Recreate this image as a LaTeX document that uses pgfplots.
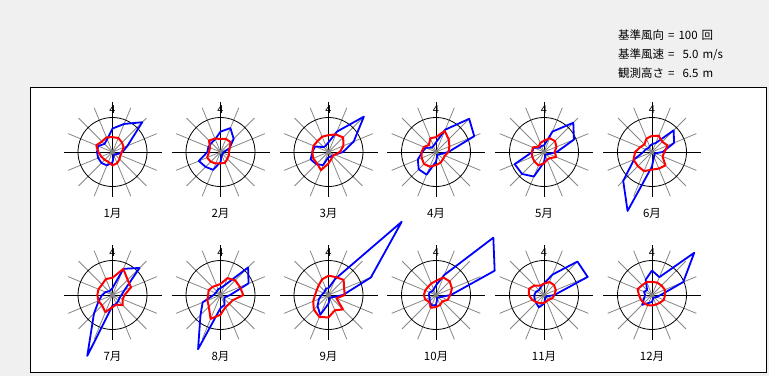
\documentclass[border=0pt]{standalone}
\usepackage{pgfplots}
\pgfplotsset{compat=1.18}
\usepackage{pgfplotstable}
\usepgfplotslibrary{polar}
\usepackage{fontspec}
\setmainfont{Noto Sans CJK JP}
\definecolor{bg}{RGB}{240,240,240}
\definecolor{spoke}{RGB}{135,135,135}
\definecolor{fblue}{RGB}{0,0,255}
\definecolor{vred}{RGB}{255,0,0}

% d = direction index (0=N, clockwise), f = count (ref 100), v = mean speed m/s (ref 5.0)
\pgfplotstableread{
d f v
0 68 2.15
1 88 2.20
2 122 1.95
3 47 1.75
4 29 1.35
5 15 1.25
6 10 1.45
7 10 1.75
8 30 1.95
9 42 1.55
10 45 1.60
11 45 1.75
12 45 2.05
13 45 2.55
14 33 2.15
15 40 2.30
16 68 2.15
}\tJan
\pgfplotstableread{
d f v
0 59 1.90
1 75 2.05
2 54 2.05
3 28 1.45
4 10 1.20
5 8 1.30
6 8 1.40
7 10 1.70
8 29 1.65
9 56 1.80
10 61 2.00
11 68 2.10
12 38 1.65
13 38 1.65
14 37 2.35
15 40 2.10
16 59 1.90
}\tFeb
\pgfplotstableread{
d f v
0 28 2.45
1 64 2.75
2 145 3.00
3 79 2.35
4 42 1.65
5 20 1.00
6 15 0.85
7 15 1.10
8 15 1.65
9 41 2.85
10 50 2.35
11 56 2.40
12 47 2.35
13 42 2.35
14 20 2.25
15 20 2.40
16 28 2.45
}\tMar
\pgfplotstableread{
d f v
0 28 2.15
1 70 3.30
2 136 2.60
3 120 2.10
4 36 1.80
5 15 1.40
6 10 1.45
7 10 1.70
8 28 1.90
9 71 2.30
10 71 2.45
11 57 2.25
12 40 2.10
13 32 1.90
14 18 1.45
15 19 2.15
16 28 2.15
}\tApr
\pgfplotstableread{
d f v
0 19 1.65
1 64 2.15
2 120 2.25
3 94 1.95
4 37 1.55
5 15 1.90
6 10 1.25
7 10 1.20
8 30 1.65
9 77 2.10
10 90 1.95
11 92 1.85
12 34 1.75
13 33 1.75
14 18 1.10
15 19 1.40
16 19 1.65
}\tMay
\pgfplotstableread{
d f v
0 23 2.35
1 28 2.55
2 89 2.10
3 69 2.45
4 31 1.80
5 10 1.65
6 10 2.75
7 15 2.60
8 42 2.55
9 185 3.00
10 118 2.90
11 56 2.90
12 25 2.45
13 20 1.85
14 15 1.55
15 18 2.10
16 23 2.35
}\tJun
\pgfplotstableread{
d f v
0 20 2.50
1 82 4.10
2 111 3.10
3 38 2.90
4 26 1.75
5 22 1.60
6 24 2.10
7 28 1.50
8 31 1.75
9 191 2.70
10 76 2.15
11 43 2.20
12 30 2.20
13 22 2.20
14 15 2.15
15 15 2.50
16 20 2.50
}\tJul
\pgfplotstableread{
d f v
0 20 1.60
1 30 2.65
2 113 3.00
3 88 3.05
4 28 3.30
5 15 1.95
6 15 1.80
7 31 1.90
8 38 2.85
9 170 3.75
10 82 2.40
11 56 2.05
12 20 1.80
13 15 1.85
14 15 1.65
15 18 1.50
16 20 1.60
}\tAug
\pgfplotstableread{
d f v
0 20 2.80
1 50 2.80
2 300 3.10
3 133 2.45
4 42 2.35
5 15 1.25
6 10 2.95
7 10 2.40
8 25 3.25
9 62 3.45
10 45 3.00
11 30 2.40
12 20 1.95
13 15 1.85
14 15 2.00
15 20 2.45
16 20 2.80
}\tSep
\pgfplotstableread{
d f v
0 28 2.05
1 63 2.75
2 235 2.80
3 184 2.50
4 43 2.05
5 15 1.85
6 10 1.30
7 10 1.55
8 29 1.75
9 33 2.00
10 26 1.40
11 20 1.70
12 21 1.75
13 20 1.70
14 15 1.65
15 18 1.80
16 28 2.05
}\tOct
\pgfplotstableread{
d f v
0 33 1.65
1 64 2.05
2 137 2.05
3 137 1.85
4 30 1.50
5 10 1.30
6 8 0.95
7 10 1.00
8 25 1.15
9 39 1.30
10 32 1.50
11 30 1.85
12 28 2.20
13 25 2.35
14 20 1.95
15 25 1.45
16 33 1.65
}\tNov
\pgfplotstableread{
d f v
0 71 1.90
1 56 1.95
2 173 1.95
3 98 2.00
4 25 1.90
5 15 1.85
6 10 1.60
7 10 1.50
8 20 1.50
9 25 1.60
10 40 1.65
11 25 1.75
12 20 1.90
13 25 2.25
14 20 2.00
15 48 2.05
16 71 1.90
}\tDec

\newcommand{\rose}[3]{%
\begin{axis}[at={(#1pt,#2pt)},anchor=origin,x=0.345pt,y=0.345pt,
  xmin=-100,xmax=100,ymin=-100,ymax=100,hide axis,clip=false,data cs=polar]
\addplot[fblue,line width=1.8pt,line join=round,mark=none]
  table[x expr={90-22.5*\thisrow{d}},y=f]{#3};
\addplot[vred,line width=2.0pt,line join=round,mark=none]
  table[x expr={90-22.5*\thisrow{d}},y expr={20*\thisrow{v}}]{#3};
\end{axis}}

\begin{document}
\begin{tikzpicture}[x=1pt,y=1pt]
\fill[bg] (0,0) rectangle (769,376);
\filldraw[fill=white,draw=black,line width=0.8pt] (30,4) rectangle (766,289);
\node[anchor=west,font=\fontsize{11.5}{12}\selectfont,inner sep=0pt] at (618,341) {基準風向\hspace{4pt}=\hspace{4pt}100\hspace{4pt}回};
\node[anchor=west,font=\fontsize{11.5}{12}\selectfont,inner sep=0pt] at (618,321) {基準風速\hspace{4pt}=\hspace{8pt}5.0\hspace{4pt}m/s};
\node[anchor=west,font=\fontsize{11.5}{12}\selectfont,inner sep=0pt] at (618,303) {観測高さ\hspace{4pt}=\hspace{8pt}6.5\hspace{4pt}m};
\foreach \cx/\cy/\m in {112.5/224/1,220.5/224/2,328.5/224/3,436/224/4,544/224/5,652/224/6,
                        112.5/81/7,220.5/81/8,328.5/81/9,436/81/10,544/81/11,652/81/12}{
  \foreach \a in {22.5,45,67.5,112.5,135,157.5,202.5,225,247.5,292.5,315,337.5}
    \draw[spoke,line width=0.8pt] (\cx,\cy) -- ++(\a:48);
  \draw[black,line width=0.9pt] (\cx-49,\cy) -- (\cx+49,\cy) (\cx,\cy-45) -- (\cx,\cy+50);
  \draw[black,line width=0.8pt] (\cx,\cy) circle (34.5);
  \fill[gray] (\cx,\cy) circle (2.5);
  \node[font=\fontsize{11}{11}\selectfont,inner sep=0pt] at (\cx,\cy+42) {4};
  \node[font=\fontsize{11.5}{12}\selectfont,inner sep=0pt] at (\cx,\cy-61) {\m 月};
}
\rose{112.5}{224}{\tJan}
\rose{220.5}{224}{\tFeb}
\rose{328.5}{224}{\tMar}
\rose{436}{224}{\tApr}
\rose{544}{224}{\tMay}
\rose{652}{224}{\tJun}
\rose{112.5}{81}{\tJul}
\rose{220.5}{81}{\tAug}
\rose{328.5}{81}{\tSep}
\rose{436}{81}{\tOct}
\rose{544}{81}{\tNov}
\rose{652}{81}{\tDec}
\pgfresetboundingbox
\path[use as bounding box] (0,0) rectangle (769,376);
\end{tikzpicture}
\end{document}
